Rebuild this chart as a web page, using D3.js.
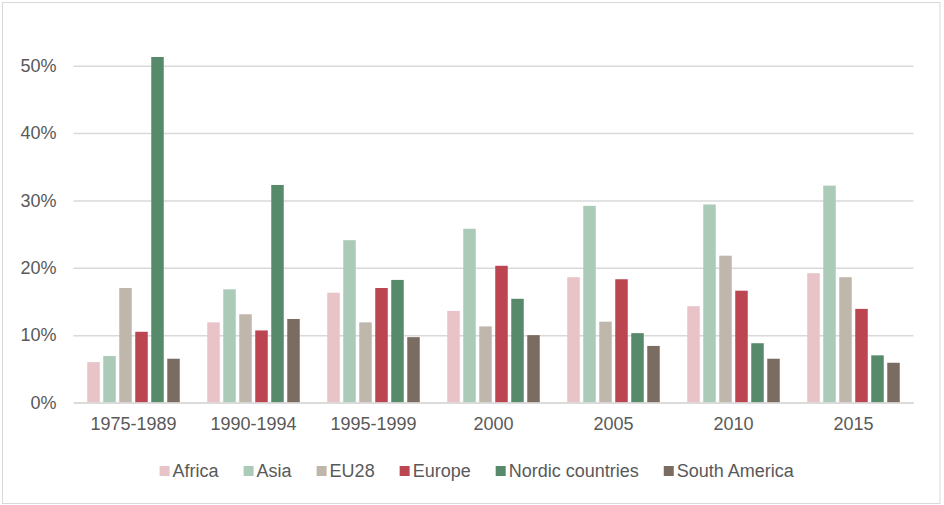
<!DOCTYPE html>
<html>
<head>
<meta charset="utf-8">
<script src="https://cdn.jsdelivr.net/npm/d3@7"></script>
<style>
  body { margin: 0; background: #fff; }
  svg { display: block; font-family: 'Liberation Sans', Arial, sans-serif; }
</style>
</head>
<body>
<div id="chart"></div>
<script>
// periods on the x axis
const periods = ['1975-1989', '1990-1994', '1995-1999', '2000', '2005', '2010', '2015']
const regions = ['Africa', 'Asia', 'EU28', 'Europe', 'Nordic countries', 'South America']
const regionColors = ['#E8C3C7', '#ACCAB8', '#BFB6AC', '#BB4550', '#578A6A', '#7A6C60']

// shares per region, one value per period
const africa = [0.060, 0.119, 0.163, 0.136, 0.186, 0.143, 0.192]
const asia = [0.069, 0.168, 0.241, 0.258, 0.292, 0.294, 0.322]
const eu28 = [0.170, 0.131, 0.119, 0.113, 0.120, 0.218, 0.186]
const europe = [0.105, 0.107, 0.170, 0.203, 0.183, 0.166, 0.139]
const nordic = [0.513, 0.323, 0.182, 0.154, 0.103, 0.088, 0.070]
const southAmerica = [0.065, 0.124, 0.097, 0.100, 0.084, 0.065, 0.059]

const yTicks = [0, 0.1, 0.2, 0.3, 0.4, 0.5]

const seriesValues = [africa, asia, eu28, europe, nordic, southAmerica]

const W = 944
const H = 505
const plot = { left: 73.5, right: 913.5, top: 32, bottom: 402.5 }
const textColor = '#595959'
const gridColor = '#D9D9D9'

const svg = d3.select('#chart')
  .append('svg')
  .attr('width', W)
  .attr('height', H)

// outer border of the chart
svg.append('rect')
  .attr('x', 2.5)
  .attr('y', 2.5)
  .attr('width', 937.5)
  .attr('height', 501)
  .attr('fill', '#fff')
  .attr('stroke', gridColor)
  .attr('stroke-width', 1)

const x0 = d3.scaleBand()
  .domain(periods)
  .range([plot.left, plot.right])
  .paddingInner(0.2)
  .paddingOuter(0.1)

const x1 = d3.scaleBand()
  .domain(regions)
  .range([0, x0.bandwidth()])

const y = d3.scaleLinear()
  .domain([0, 0.55])
  .range([plot.bottom, plot.bottom - 0.55 * 673.5])

const color = d3.scaleOrdinal()
  .domain(regions)
  .range(regionColors)

// gridlines + y labels
const yAxis = d3.axisLeft(y)
  .tickValues(yTicks)
  .tickFormat(d3.format('.0%'))
  .tickSize(-(plot.right - plot.left))
  .tickPadding(17)

svg.append('g')
  .attr('transform', `translate(${plot.left},0)`)
  .call(yAxis)
  .call(g => g.select('.domain').remove())
  .call(g => g.selectAll('.tick line')
    .attr('stroke', gridColor)
    .attr('stroke-width', 1.5))
  .call(g => g.selectAll('.tick text')
    .attr('fill', textColor)
    .style('font-size', '18px'))

// bars
const data = []
periods.forEach((p, i) => {
  regions.forEach((r, j) => {
    data.push({ period: p, region: r, value: seriesValues[j][i] })
  })
})

const gap = 3.5
svg.append('g')
  .selectAll('rect')
  .data(data)
  .enter()
  .append('rect')
  .attr('x', d => x0(d.period) + x1(d.region) + gap / 2)
  .attr('y', d => y(d.value))
  .attr('width', x1.bandwidth() - gap)
  .attr('height', d => y(0) - y(d.value))
  .attr('fill', d => color(d.region))

// x axis
const xAxis = d3.axisBottom(x0)
  .tickSize(0)
  .tickPadding(15)

svg.append('g')
  .attr('transform', `translate(0,${plot.bottom})`)
  .call(xAxis)
  .call(g => g.select('.domain')
    .attr('stroke', gridColor)
    .attr('stroke-width', 1.5))
  .call(g => g.selectAll('.tick text')
    .attr('fill', textColor)
    .style('font-size', '18px'))

// legend
const legend = svg.append('g')
let lx = 0
regions.forEach((r, i) => {
  const item = legend.append('g')
    .attr('transform', `translate(${lx},0)`)
  item.append('rect')
    .attr('x', 0)
    .attr('y', -10.5)
    .attr('width', 10)
    .attr('height', 10)
    .attr('fill', color(r))
  const t = item.append('text')
    .attr('x', 13)
    .attr('y', 0)
    .attr('fill', textColor)
    .style('font-size', '18px')
    .text(r)
  lx += 13 + t.node().getComputedTextLength() + 25
})
const legendWidth = lx - 25
legend.attr('transform', `translate(${476.7 - legendWidth / 2},476.5)`)
</script>
</body>
</html>
